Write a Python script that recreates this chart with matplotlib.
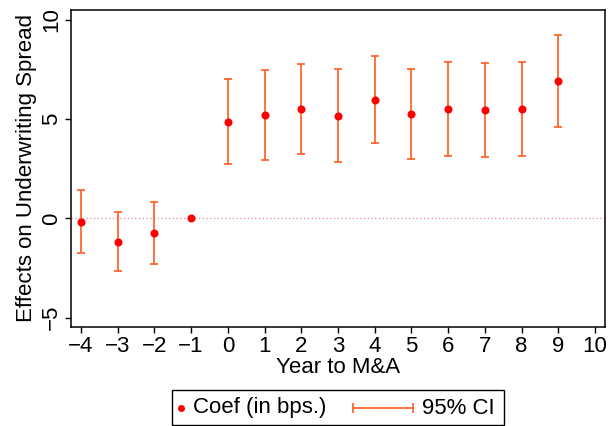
import numpy as np
import matplotlib.pyplot as plt
from matplotlib.lines import Line2D
from matplotlib.patches import Rectangle

plt.rcParams['font.family'] = ['Liberation Sans', 'DejaVu Sans']

years = [-4, -3, -2, -1, 0, 1, 2, 3, 4, 5, 6, 7, 8, 9]
coef = [-0.17, -1.18, -0.73, 0.0, 4.88, 5.22, 5.50, 5.18, 5.99, 5.25, 5.50, 5.47, 5.52, 6.93]
ci_low = [-1.74, -2.66, -2.31, np.nan, 2.74, 2.94, 3.23, 2.83, 3.80, 2.98, 3.15, 3.11, 3.15, 4.63]
ci_high = [1.43, 0.33, 0.84, np.nan, 7.03, 7.50, 7.78, 7.54, 8.16, 7.53, 7.88, 7.81, 7.90, 9.22]

pt_color = '#ff0000'
ci_color = '#ff5a1f'
fs = 16

years = np.array(years)
coef = np.array(coef)
ci_low = np.array(ci_low)
ci_high = np.array(ci_high)

W, H = 608, 426
fig = plt.figure(figsize=(W / 100, H / 100), dpi=100)
ax = fig.add_axes([71 / W, 1 - 327 / H, 534 / W, 317 / H])

ax.axhline(0, color='#e8899a', lw=0.9, ls=(0, (1, 2)), zorder=1)

has_ci = ~np.isnan(ci_low)
mid = (ci_low + ci_high) / 2
ax.errorbar(years[has_ci], mid[has_ci],
            yerr=(ci_high[has_ci] - ci_low[has_ci]) / 2,
            fmt='none', ecolor=ci_color, elinewidth=1.2,
            capsize=3, capthick=1.2, zorder=2)
ax.plot(years, coef, 'o', color=pt_color, ms=4.8, zorder=3)

ax.set_xlim(-4.27, 10.27)
ax.set_ylim(-5.47, 10.5)
ax.set_xticks(np.arange(-4, 11))
ax.set_yticks([-5, 0, 5, 10])
ax.set_xticklabels([str(v).replace('-', '\u2212') for v in range(-4, 11)])
ax.set_yticklabels(['\u22125', '0', '5', '10'], rotation=90, va='center')
ax.tick_params(direction='out', length=4.5, width=1, labelsize=fs, pad=2)
for s in ax.spines.values():
    s.set_linewidth(1.1)

ax.set_xlabel('Year to M&A', fontsize=fs, labelpad=0)
ax.set_ylabel('Effects on Underwriting Spread', fontsize=fs, labelpad=3)

# legend box below the plot, laid out in pixel units
def px(x, y):
    return x / W, 1 - y / H

x0, y0 = px(172, 425)
x1, y1 = px(504, 390)
fig.patches.append(Rectangle((x0, y0), x1 - x0, y1 - y0, transform=fig.transFigure,
                             fill=False, edgecolor='black', lw=1.0))
ly = px(0, 408)[1]
fig.add_artist(Line2D([px(181, 0)[0]], [ly], ls='none', marker='o',
                      color=pt_color, ms=4, transform=fig.transFigure))
fig.text(px(193, 0)[0], ly, 'Coef (in bps.)', fontsize=fs, va='center', ha='left')
fig.add_artist(Line2D([px(353, 0)[0], px(413, 0)[0]], [ly, ly], color=ci_color,
                      lw=1.2, marker='|', ms=7, mew=1.2, transform=fig.transFigure))
fig.text(px(422, 0)[0], ly, '95% CI', fontsize=fs, va='center', ha='left')

fig.savefig('out.png', dpi=100)
